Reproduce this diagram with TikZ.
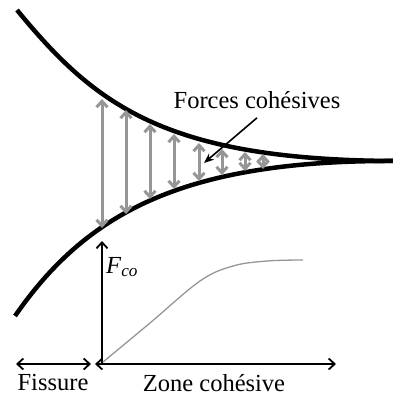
\documentclass[tikz,border=0pt]{standalone}
\usepackage{fontspec}
\setmainfont{Liberation Serif}
\usetikzlibrary{arrows.meta}
\definecolor{fgray}{RGB}{150,150,150}
\tikzset{
  lips/.style={line width=4.5pt, black},
  force/.style={line width=3pt, fgray, {Straight Barb[length=6pt,width=11pt]}-{Straight Barb[length=6pt,width=11pt]}},
  axis/.style={line width=1.8pt, black},
  lbl/.style={font=\fontsize{24.5}{29}\selectfont, inner sep=0pt},
}
\begin{document}
\begin{tikzpicture}[x=1pt,y=-1pt]
\useasboundingbox (0,0) rectangle (393,397);
% crack lips
\draw[lips] (17,10) .. controls (95,105) and (165,160) .. (395,161);
\draw[lips] (15,316) .. controls (85,215) and (180,160) .. (395,161);
% cohesive forces
\foreach \x/\t/\b in {102/98/229, 126/109/215, 150/123/200, 174/133/190, 199/142/182, 222/148/176, 245/151/172, 263/153/170}{
  \draw[force] (\x,\b-1) -- (\x,\t+1);
}
% label
\node[lbl] (fc) at (257,100) {Forces cohésives};
\coordinate (fct) at (204,163);
\draw[line width=1.6pt, -{Stealth[length=10pt,width=8pt]}] (fc.south) ++(0,9) -- (fct);
% axes
\coordinate (o) at (102,364);
\coordinate (ytop) at (102,241);
\coordinate (xr) at (336,364);
\coordinate (xl) at (95,364);
\coordinate (fl) at (16,364);
\coordinate (fr) at (91,364);
\draw[axis, -{Straight Barb[length=6pt,width=11pt]}] (o) -- (ytop);
\draw[axis, {Straight Barb[length=6pt,width=11pt]}-{Straight Barb[length=6pt,width=11pt]}] (xl) -- (xr);
\draw[axis, {Straight Barb[length=6pt,width=11pt]}-{Straight Barb[length=6pt,width=11pt]}] (fl) -- (fr);
% cohesive law
\draw[line width=1.3pt, fgray] plot[smooth, tension=0.6] coordinates {(103,362) (150,323) (200,281) (233,266) (267,261) (303,260)};
% labels
\node[lbl, anchor=west] (F) at (106,267) {\textit{F}\textsubscript{\textit{co}}};
\node[lbl] (fis) at (53,383) {Fissure};
\node[lbl] (zc) at (214,383) {Zone cohésive};
\end{tikzpicture}
\end{document}
